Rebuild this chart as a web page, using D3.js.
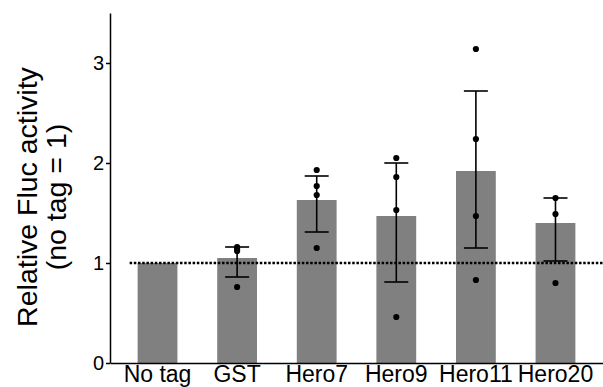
<!DOCTYPE html>
<html>
<head>
<meta charset="utf-8">
<script src="https://cdn.jsdelivr.net/npm/d3@7"></script>
<style>
  html, body { margin: 0; padding: 0; background: #fff; }
  svg { display: block; font-family: "Liberation Sans", Arial, sans-serif; }
</style>
</head>
<body>
<svg id="chart" width="603" height="387"></svg>
<script>
// Relative Fluc activity per tag, normalised to "No tag" = 1
const categories = ["No tag", "GST", "Hero7", "Hero9", "Hero11", "Hero20"];
const means      = [1.00, 1.05, 1.63, 1.47, 1.92, 1.40];
const errLow     = [null, 0.86, 1.31, 0.81, 1.15, 1.02];
const errHigh    = [null, 1.16, 1.87, 2.00, 2.72, 1.65];
const replicates = [
  [],
  [1.16, 1.14, 1.12, 0.76],
  [1.93, 1.77, 1.68, 1.15],
  [2.05, 1.86, 1.53, 0.46],
  [3.14, 2.24, 1.47, 0.83],
  [1.65, 1.49, 0.80]
];
const yTicks = [0, 1, 2, 3];
const reference = 1;

const svg = d3.select("#chart");

const x = d3.scaleBand()
  .domain(categories)
  .range([110, 603])
  .paddingInner(0.5)
  .paddingOuter(0.347);

const y = d3.scaleLinear().domain([0, 3.5]).range([363, 13]);

// bars
svg.append("g")
  .selectAll("rect")
  .data(categories)
  .join("rect")
  .attr("x", d => x(d))
  .attr("y", (d, i) => y(means[i]))
  .attr("width", x.bandwidth())
  .attr("height", (d, i) => y(0) - y(means[i]))
  .attr("fill", "#808080");

// reference line at 1
svg.append("line")
  .attr("x1", x(categories[0]) - 8)
  .attr("x2", 603)
  .attr("y1", y(reference))
  .attr("y2", y(reference))
  .attr("stroke", "#000")
  .attr("stroke-width", 2.5)
  .attr("stroke-dasharray", "2.5,1.7");

// error bars
const cx = d => x(d) + x.bandwidth() / 2;
const capHalf = 12;
const eb = svg.append("g").attr("stroke", "#000").attr("stroke-width", 1.6);
categories.forEach((c, i) => {
  if (errLow[i] == null) return;
  eb.append("line").attr("x1", cx(c)).attr("x2", cx(c))
    .attr("y1", y(errLow[i])).attr("y2", y(errHigh[i]));
  [errLow[i], errHigh[i]].forEach(v => {
    eb.append("line").attr("x1", cx(c) - capHalf).attr("x2", cx(c) + capHalf)
      .attr("y1", y(v)).attr("y2", y(v));
  });
});

// individual replicates
const pts = [];
categories.forEach((c, i) => replicates[i].forEach(v => pts.push({ c, v })));
svg.append("g")
  .selectAll("circle")
  .data(pts)
  .join("circle")
  .attr("cx", d => cx(d.c))
  .attr("cy", d => y(d.v))
  .attr("r", 3.1)
  .attr("fill", "#000");

// axes
const yAxis = svg.append("g")
  .attr("transform", "translate(110,0)")
  .call(d3.axisLeft(y).tickValues(yTicks).tickFormat(d3.format("d"))
    .tickSize(4).tickSizeOuter(0).tickPadding(2));
yAxis.selectAll("text").attr("font-size", 20).attr("fill", "#000")
  .attr("font-family", "'Liberation Sans', Arial, sans-serif");
yAxis.selectAll("path, line").attr("stroke", "#000").attr("stroke-width", 1.5);

const xAxis = svg.append("g")
  .attr("transform", `translate(0,${y(0)})`)
  .call(d3.axisBottom(x).tickSize(0).tickSizeOuter(0).tickPadding(3));
xAxis.selectAll("text").attr("font-size", 23).attr("fill", "#000")
  .attr("font-family", "'Liberation Sans', Arial, sans-serif");
xAxis.select(".domain").attr("stroke", "#000").attr("stroke-width", 1.5);

// y-axis title
const titleY = 197;
svg.append("text")
  .attr("transform", `translate(37,${titleY}) rotate(-90)`)
  .attr("text-anchor", "middle")
  .attr("font-size", 28.5)
  .text("Relative Fluc activity");
svg.append("text")
  .attr("transform", `translate(66,${titleY}) rotate(-90)`)
  .attr("text-anchor", "middle")
  .attr("font-size", 28.5)
  .text("(no tag = 1)");
</script>
</body>
</html>
